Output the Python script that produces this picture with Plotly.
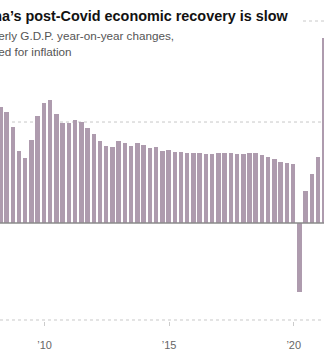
import plotly.graph_objects as go

# Quarterly real G.D.P. growth, year-on-year, percent
years = list(range(2008, 2022))
quarters = [f"{y} Q{q}" for y in years for q in (1, 2, 3, 4)][:53]
growth = [
    11.5, 11.0, 9.5, 7.1,    # 2008
    6.4, 8.2, 10.6, 11.9,    # 2009
    12.2, 10.8, 9.9, 9.9,    # 2010
    10.2, 10.0, 9.4, 8.8,    # 2011
    8.1, 7.6, 7.5, 8.1,      # 2012
    7.9, 7.6, 7.9, 7.7,      # 2013
    7.4, 7.5, 7.1, 7.2,      # 2014
    7.0, 7.0, 6.9, 6.9,      # 2015
    6.9, 6.8, 6.8, 6.9,      # 2016
    6.9, 6.9, 6.8, 6.8,      # 2017
    6.9, 6.9, 6.7, 6.5,      # 2018
    6.3, 6.0, 5.9, 5.8,      # 2019
    -6.8, 3.2, 4.9, 6.5,     # 2020
    18.3,                    # 2021
]
tick_years = ["2010 Q1", "2015 Q1", "2020 Q1"]
tick_text = ["\u201910", "\u201915", "\u201920"]

W, H = 324, 351
PLOT_BOTTOM = 30
plot_h = H - PLOT_BOTTOM

xpos = list(range(len(quarters)))
tickvals = [quarters.index(q) - 0.9 for q in tick_years]

BAR = "#ae9bae"
GRID = "#c8c8c8"
FONT = "Liberation Sans, Arial, sans-serif"

fig = go.Figure(
    go.Bar(
        x=xpos,
        y=growth,
        width=0.72,
        marker=dict(color=BAR, line=dict(width=0)),
        hovertext=quarters,
        hoverinfo="text+y",
    )
)


def py(pix):
    """Paper y coordinate for a pixel row measured from the top."""
    return (plot_h - pix) / plot_h


shapes = [
    dict(type="line", xref="paper", yref="y", x0=0, x1=1, y0=10, y1=10,
         line=dict(color=GRID, width=1, dash="dot"), layer="below"),
    dict(type="line", xref="paper", yref="y", x0=303 / W, x1=1, y0=20, y1=20,
         line=dict(color=GRID, width=1, dash="dot"), layer="below"),
    dict(type="line", xref="paper", yref="y", x0=0, x1=1, y0=-9.6, y1=-9.6,
         line=dict(color=GRID, width=1, dash="dot"), layer="below"),
    dict(type="line", xref="paper", yref="y", x0=0, x1=1, y0=0, y1=0,
         line=dict(color="#8a8a8a", width=1.5), layer="above"),
]

annotations = [
    dict(text="<b>China\u2019s post-Covid economic recovery is slow</b>",
         xref="paper", yref="paper", x=-32 / W, y=py(16.5),
         xanchor="left", yanchor="middle", showarrow=False,
         font=dict(family=FONT, size=14.4, color="#121212")),
    dict(text="Quarterly G.D.P. year-on-year changes,",
         xref="paper", yref="paper", x=-33 / W, y=py(35),
         xanchor="left", yanchor="middle", showarrow=False,
         font=dict(family=FONT, size=11.7, color="#555555")),
    dict(text="adjusted for inflation",
         xref="paper", yref="paper", x=-35 / W, y=py(51),
         xanchor="left", yanchor="middle", showarrow=False,
         font=dict(family=FONT, size=11.7, color="#555555")),
]

fig.update_layout(
    width=W,
    height=H,
    margin=dict(l=0, r=0, t=0, b=PLOT_BOTTOM, pad=0),
    paper_bgcolor="white",
    plot_bgcolor="white",
    showlegend=False,
    bargap=0,
    shapes=shapes,
    annotations=annotations,
    xaxis=dict(
        range=[-0.05, 51.96],
        tickvals=tickvals,
        ticktext=tick_text,
        ticks="outside",
        ticklen=4,
        tickcolor="#cccccc",
        ticklabelstandoff=10,
        tickfont=dict(family=FONT, size=11, color="#666666"),
        showgrid=False,
        zeroline=False,
        showline=False,
    ),
    yaxis=dict(
        range=[-9.70, 22.08],
        showgrid=False,
        zeroline=False,
        showticklabels=False,
        ticks="",
        showline=False,
    ),
)

fig.write_html("out.html")
